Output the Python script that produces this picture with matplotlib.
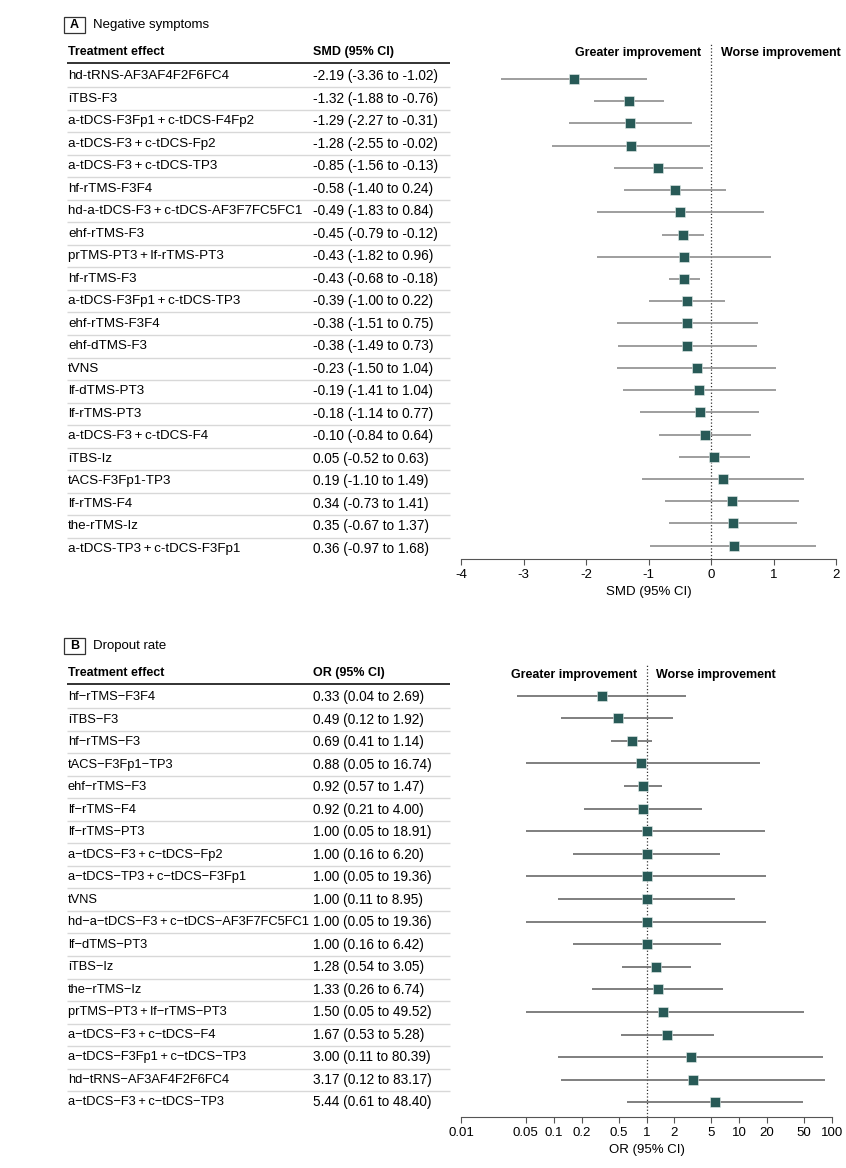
import matplotlib
matplotlib.use("Agg")
import matplotlib.pyplot as plt
from matplotlib.patches import Rectangle

plt.rcParams["font.family"] = ["Liberation Sans", "DejaVu Sans"]
plt.rcParams["axes.unicode_minus"] = False

# ---- data, panel A: negative symptoms (SMD) ----
a_labels = ["hd-tRNS-AF3AF4F2F6FC4", "iTBS-F3", "a-tDCS-F3Fp1\u2009+\u2009c-tDCS-F4Fp2",
            "a-tDCS-F3\u2009+\u2009c-tDCS-Fp2", "a-tDCS-F3\u2009+\u2009c-tDCS-TP3", "hf-rTMS-F3F4",
            "hd-a-tDCS-F3\u2009+\u2009c-tDCS-AF3F7FC5FC1", "ehf-rTMS-F3",
            "prTMS-PT3\u2009+\u2009lf-rTMS-PT3", "hf-rTMS-F3", "a-tDCS-F3Fp1\u2009+\u2009c-tDCS-TP3",
            "ehf-rTMS-F3F4", "ehf-dTMS-F3", "tVNS", "lf-dTMS-PT3", "lf-rTMS-PT3",
            "a-tDCS-F3\u2009+\u2009c-tDCS-F4", "iTBS-Iz", "tACS-F3Fp1-TP3", "lf-rTMS-F4",
            "the-rTMS-Iz", "a-tDCS-TP3\u2009+\u2009c-tDCS-F3Fp1"]
a_est = [-2.19, -1.32, -1.29, -1.28, -0.85, -0.58, -0.49, -0.45, -0.43, -0.43, -0.39,
         -0.38, -0.38, -0.23, -0.19, -0.18, -0.10, 0.05, 0.19, 0.34, 0.35, 0.36]
a_lo = [-3.36, -1.88, -2.27, -2.55, -1.56, -1.40, -1.83, -0.79, -1.82, -0.68, -1.00,
        -1.51, -1.49, -1.50, -1.41, -1.14, -0.84, -0.52, -1.10, -0.73, -0.67, -0.97]
a_hi = [-1.02, -0.76, -0.31, -0.02, -0.13, 0.24, 0.84, -0.12, 0.96, -0.18, 0.22,
        0.75, 0.73, 1.04, 1.04, 0.77, 0.64, 0.63, 1.49, 1.41, 1.37, 1.68]
a_ticks = [-4, -3, -2, -1, 0, 1, 2]

# ---- data, panel B: dropout rate (OR) ----
b_labels = ["hf\u2212rTMS\u2212F3F4", "iTBS\u2212F3", "hf\u2212rTMS\u2212F3", "tACS\u2212F3Fp1\u2212TP3",
            "ehf\u2212rTMS\u2212F3", "lf\u2212rTMS\u2212F4", "lf\u2212rTMS\u2212PT3",
            "a\u2212tDCS\u2212F3\u2009+\u2009c\u2212tDCS\u2212Fp2", "a\u2212tDCS\u2212TP3\u2009+\u2009c\u2212tDCS\u2212F3Fp1",
            "tVNS", "hd\u2212a\u2212tDCS\u2212F3\u2009+\u2009c\u2212tDCS\u2212AF3F7FC5FC1", "lf\u2212dTMS\u2212PT3",
            "iTBS\u2212Iz", "the\u2212rTMS\u2212Iz", "prTMS\u2212PT3\u2009+\u2009lf\u2212rTMS\u2212PT3",
            "a\u2212tDCS\u2212F3\u2009+\u2009c\u2212tDCS\u2212F4", "a\u2212tDCS\u2212F3Fp1\u2009+\u2009c\u2212tDCS\u2212TP3",
            "hd\u2212tRNS\u2212AF3AF4F2F6FC4", "a\u2212tDCS\u2212F3\u2009+\u2009c\u2212tDCS\u2212TP3"]
b_est = [0.33, 0.49, 0.69, 0.88, 0.92, 0.92, 1.00, 1.00, 1.00, 1.00, 1.00, 1.00,
         1.28, 1.33, 1.50, 1.67, 3.00, 3.17, 5.44]
b_lo = [0.04, 0.12, 0.41, 0.05, 0.57, 0.21, 0.05, 0.16, 0.05, 0.11, 0.05, 0.16,
        0.54, 0.26, 0.05, 0.53, 0.11, 0.12, 0.61]
b_hi = [2.69, 1.92, 1.14, 16.74, 1.47, 4.00, 18.91, 6.20, 19.36, 8.95, 19.36, 6.42,
        3.05, 6.74, 49.52, 5.28, 80.39, 83.17, 48.40]
b_ticks = [0.01, 0.05, 0.1, 0.2, 0.5, 1, 2, 5, 10, 20, 50, 100]
b_ticklabels = ["0.01", "0.05", "0.1", "0.2", "0.5", "1", "2", "5", "10", "20", "50", "100"]

W, H = 846, 1168
fig = plt.figure(figsize=(W / 100, H / 100), dpi=100)

MARK = "#285a57"
FS_NUM = 9.8   # estimate column
FS_HEAD = 9    # bold headers


def rows_axes(x0, x1, top, bottom, row0, step):
    # axes placed in pixel coords; y data = row index (0 at top)
    ax = fig.add_axes([x0 / W, 1 - bottom / H, (x1 - x0) / W, (bottom - top) / H])
    ax.set_ylim((bottom - row0) / step, (top - row0) / step)
    ax.patch.set_visible(False)
    return ax


def panel_title(letter, title, yc):
    fig.patches.append(Rectangle((64 / W, 1 - (yc + 8) / H), 21 / W, 16 / H,
                                 transform=fig.transFigure, fill=False, ec="#333333", lw=0.9))
    fig.text(74.5 / W, 1 - yc / H, letter, ha="center", va="center", fontsize=9, fontweight="bold")
    fig.text(93 / W, 1 - yc / H, title, ha="left", va="center", fontsize=9.5)


def table(labels, stats, head2, top_px, row0, fs_lab):
    step = 22.52
    ax = rows_axes(0, W, top_px, top_px + 540, row0, step)
    ax.set_xlim(0, W)
    ax.axis("off")
    hy = -24 / step
    ax.text(68, hy, "Treatment effect", ha="left", va="center", fontsize=FS_HEAD, fontweight="bold")
    ax.text(313, hy, head2, ha="left", va="center", fontsize=FS_HEAD, fontweight="bold")
    ax.hlines(-13.3 / step, 67, 450, color="#222222", lw=1.3)
    for i, (lab, s) in enumerate(zip(labels, stats)):
        ax.text(68, i, lab, ha="left", va="center", fontsize=fs_lab)
        ax.text(313, i, s, ha="left", va="center", fontsize=FS_NUM)
    ax.hlines([i + 0.5 for i in range(len(labels) - 1)], 67, 450, color="#d8d8d8", lw=1.0)


def forest(est, lo, hi, x0, x1, top, bottom, row0, step, line_c):
    ax = rows_axes(x0, x1, top, bottom, row0, step)
    y = list(range(len(est)))
    ax.hlines(y, lo, hi, color=line_c, lw=1.2, zorder=2)
    ax.plot(est, y, "s", color=MARK, ms=6.5, mec="#e8efee", mew=0.4, zorder=3)
    for s in ["top", "left", "right"]:
        ax.spines[s].set_visible(False)
    ax.spines["bottom"].set_color("#555555")
    ax.set_yticks([])
    ax.tick_params(axis="x", length=4, color="#555555", labelsize=9.5, pad=3)
    hy = (top + 9.7 - row0) / step
    return ax, hy


def side_headers(ax, x, hy):
    ax.annotate("Greater improvement", xy=(x, hy), xytext=(-7, 0), textcoords="offset points",
                ha="right", va="center", fontsize=FS_HEAD, fontweight="bold")
    ax.annotate("Worse improvement", xy=(x, hy), xytext=(7, 0), textcoords="offset points",
                ha="left", va="center", fontsize=FS_HEAD, fontweight="bold")


# ---- panel A ----
panel_title("A", "Negative symptoms", 25)
a_stats = [f"{e:.2f} ({l:.2f} to {h:.2f})" for e, l, h in zip(a_est, a_lo, a_hi)]
table(a_labels, a_stats, "SMD (95% CI)", 30, 76, 9.6)

axA, hyA = forest(a_est, a_lo, a_hi, 461, 836, 43, 559, 79, 22.22, "#8e8e8e")
axA.set_xlim(-4, 2)
axA.set_xticks(a_ticks)
axA.axvline(0, ls=":", color="#333333", lw=0.9, zorder=1)
axA.set_xlabel("SMD (95% CI)", fontsize=9.5, labelpad=4)
side_headers(axA, 0, hyA)

# ---- panel B ----
panel_title("B", "Dropout rate", 646)
b_stats = [f"{e:.2f} ({l:.2f} to {h:.2f})" for e, l, h in zip(b_est, b_lo, b_hi)]
table(b_labels, b_stats, "OR (95% CI)", 651, 697, 9.3)

axB, hyB = forest(b_est, b_lo, b_hi, 461, 832, 665, 1117, 695.7, 22.59, "#6a6a6a")
axB.set_xscale("log")
axB.set_xlim(0.01, 100)
axB.set_xticks(b_ticks)
axB.set_xticklabels(b_ticklabels)
axB.minorticks_off()
axB.axvline(1, ls=":", color="#333333", lw=0.9, zorder=1)
axB.set_xlabel("OR (95% CI)", fontsize=9.5, labelpad=4)
side_headers(axB, 1, hyB)

fig.savefig("out.png", dpi=100)
